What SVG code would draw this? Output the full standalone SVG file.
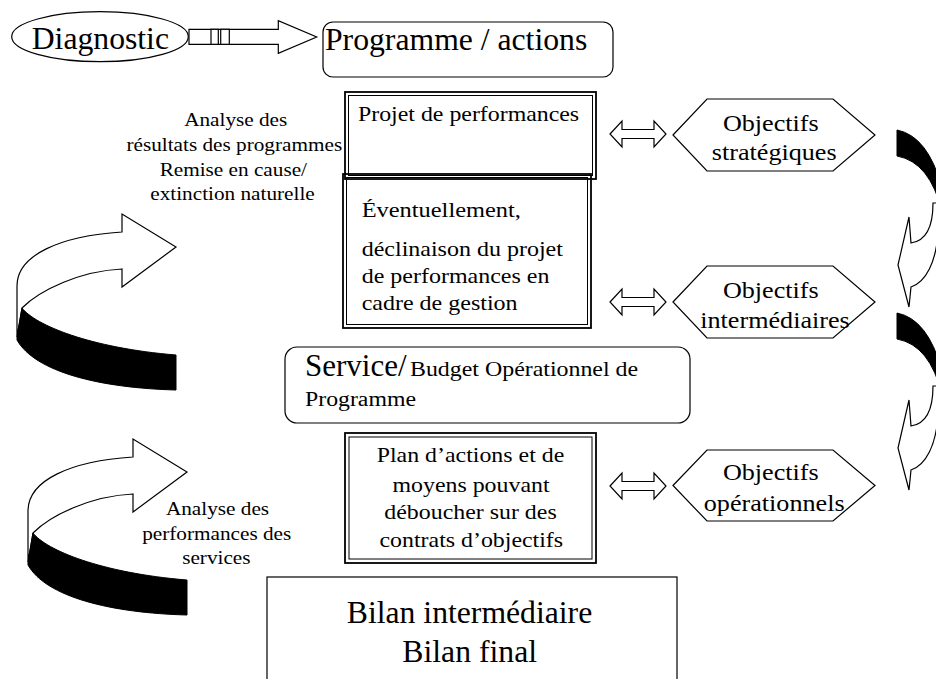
<svg xmlns="http://www.w3.org/2000/svg" width="936" height="679" viewBox="0 0 936 679">
<style>
  text { font-family: 'Liberation Serif', serif; fill: #000; }
  .big { font-size: 31.7px; }
  .hex { font-size: 24px; }
  .sm { font-size: 20px; }
  .lbl { font-size: 18px; }
  .mid { text-anchor: middle; }
  .ln { fill: #fff; stroke: #000; stroke-width: 1.2; }
  .thick { fill: #fff; stroke: #000; stroke-width: 1.8; }
  .thin { fill: none; stroke: #000; stroke-width: 1; }
  .blk { fill: #000; stroke: #000; stroke-width: 1; }
</style>
<defs>
  <g id="curlL">
    <path class="ln" d="M17,337 L17,286 C17,255 60,236 122,232 L122,214 L176,247 L122,287 L122,269 C80,271 40,290 22,308 Z"/>
    <path class="blk" d="M22,308 C35,325 90,348 176,355 L176,390 C100,388 35,372 17,340 L17,337 Z"/>
  </g>
  <g id="curlR">
    <path class="blk" d="M897,130 Q928,136 942,188 L942,212 Q930,162 897,156 Z"/>
    <path class="ln" d="M933,203 C933,228 925,241 911,243 L909,217 L898,265 L909,307 L911,287 C926,282 936,262 938,233 L948,233 L948,203 Z"/>
  </g>
  <path id="dbl" class="ln" d="M610,0 L622,-13 L622,-4.5 L654,-4.5 L654,-13 L666,0 L654,13 L654,4.5 L622,4.5 L622,13 Z"/>
</defs>
<rect x="0" y="0" width="936" height="679" fill="#fff"/>

<g id="connectors">
  <g id="striped-arrow">
    <path class="ln" d="M189,29.3 L278.3,29.3 L278.3,20.7 L316.7,37 L278.3,53.3 L278.3,44.3 L189,44.3 Z"/>
    <rect class="ln" x="211" y="29.3" width="7.3" height="15"/>
    <rect class="ln" x="220.7" y="29.3" width="8.6" height="15"/>
  </g>
  <use href="#dbl" transform="translate(0,134)"/>
  <use href="#dbl" transform="translate(0,302)"/>
  <use href="#dbl" transform="translate(0,486)"/>
  <use href="#curlL"/>
  <use href="#curlL" transform="translate(11,225)"/>
  <use href="#curlR"/>
  <use href="#curlR" transform="translate(0,183)"/>
</g>

<g id="diagnostic">
  <ellipse class="ln" cx="100" cy="36.7" rx="88.3" ry="25"/>
  <text class="big" x="31.7" y="49">Diagnostic</text>
</g>

<g id="programme">
  <rect class="ln" x="323" y="22" width="290" height="55" rx="10"/>
  <text class="big" x="325" y="50">Programme / actions</text>
</g>

<g id="eventuellement">
  <rect class="thick" x="343" y="174" width="248" height="154"/>
  <rect class="thin" x="346.5" y="177.5" width="241" height="147"/>
  <text class="sm" transform="translate(361.7,217) scale(1.22,1)">Éventuellement,</text>
  <text class="sm" transform="translate(361.7,256) scale(1.2,1)">déclinaison du projet</text>
  <text class="sm" transform="translate(361.7,283) scale(1.2,1)">de performances en</text>
  <text class="sm" transform="translate(361.7,310) scale(1.2,1)">cadre de gestion</text>
</g>

<g id="projet">
  <rect x="345" y="92" width="251" height="87" fill="none" stroke="#000" stroke-width="1.8"/>
  <rect class="thin" x="348.5" y="95.5" width="244" height="80"/>
  <text class="sm" transform="translate(358,121) scale(1.193,1)">Projet de performances</text>
</g>

<g id="service">
  <rect class="ln" x="285" y="347" width="405" height="76" rx="12"/>
  <text class="big" x="305" y="375.5" style="font-size:31px">Service/</text>
  <text class="sm" transform="translate(410,376) scale(1.195,1)">Budget Opérationnel de</text>
  <text class="sm" transform="translate(305,406) scale(1.19,1)">Programme</text>
</g>

<g id="plan">
  <rect class="thick" x="345" y="433" width="251" height="130"/>
  <rect class="thin" x="349" y="437" width="243" height="122"/>
  <text class="sm mid" transform="translate(470.5,461.5) scale(1.194,1)">Plan d’actions et de</text>
  <text class="sm mid" transform="translate(471,491.5) scale(1.194,1)">moyens pouvant</text>
  <text class="sm mid" transform="translate(470.5,518.5) scale(1.194,1)">déboucher sur des</text>
  <text class="sm mid" transform="translate(471.3,546.5) scale(1.194,1)">contrats d’objectifs</text>
</g>

<g id="bilan">
  <rect class="ln" x="267" y="577" width="410" height="120"/>
  <text class="big mid" x="469.5" y="622.5">Bilan intermédiaire</text>
  <text class="big mid" x="469.7" y="661.5">Bilan final</text>
</g>

<g id="obj-strategiques">
  <polygon class="ln" points="673,135 707,99 833,99 875,135 833,171 707,171"/>
  <text class="hex mid" transform="translate(770.8,130.5) scale(1.09,1)">Objectifs</text>
  <text class="hex mid" transform="translate(774.2,160) scale(1.09,1)">stratégiques</text>
</g>

<g id="obj-intermediaires">
  <polygon class="ln" points="673,302 707,266 833,266 875,302 833,338 707,338"/>
  <text class="hex mid" transform="translate(770.8,298.3) scale(1.09,1)">Objectifs</text>
  <text class="hex mid" transform="translate(775,328.3) scale(1.09,1)">intermédiaires</text>
</g>

<g id="obj-operationnels">
  <polygon class="ln" points="673,485.5 707,450 833,450 875,485.5 833,521 707,521"/>
  <text class="hex mid" transform="translate(770.8,480) scale(1.09,1)">Objectifs</text>
  <text class="hex mid" transform="translate(774.2,510.7) scale(1.09,1)">opérationnels</text>
</g>

<g id="label-analyse-resultats">
  <text class="lbl mid" transform="translate(235.7,126) scale(1.18,1)">Analyse des</text>
  <text class="lbl mid" transform="translate(234.3,151) scale(1.18,1)">résultats des programmes</text>
  <text class="lbl mid" transform="translate(233.3,175.5) scale(1.18,1)">Remise en cause/</text>
  <text class="lbl mid" transform="translate(232.5,200) scale(1.18,1)">extinction naturelle</text>
</g>

<g id="label-analyse-performances">
  <text class="lbl mid" transform="translate(217.5,515) scale(1.18,1)">Analyse des</text>
  <text class="lbl mid" transform="translate(216.7,539.5) scale(1.18,1)">performances des</text>
  <text class="lbl mid" transform="translate(216.3,563.5) scale(1.18,1)">services</text>
</g>
</svg>
